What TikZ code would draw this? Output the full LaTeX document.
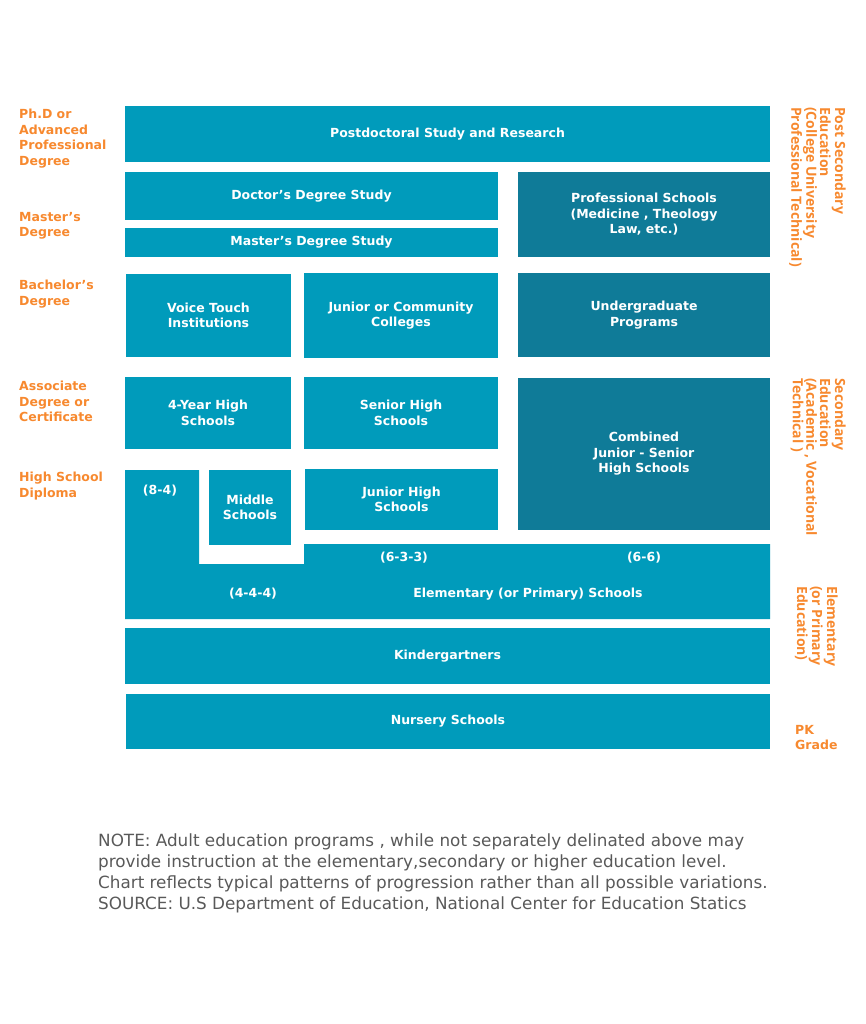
\documentclass[tikz,border=0pt]{standalone}
\usepackage{fontspec}
\setmainfont{DejaVu Sans}
\newfontfamily\sidefont{Open Sans}
\newfontfamily\notefont{DejaVu Sans}
\definecolor{blueL}{HTML}{009BBB}
\definecolor{blueD}{HTML}{0F7B98}
\definecolor{orng}{HTML}{F7892F}
\definecolor{notegray}{HTML}{595959}
\tikzset{
  blk/.style={fill=blueL, text=white, align=center, inner sep=0pt,
    font=\fontsize{12.5}{15.5}\selectfont\bfseries},
  dblk/.style={blk, fill=blueD},
  lvl/.style={text=orng, align=left, inner sep=0pt, anchor=north west,
    font=\fontsize{12.5}{15.5}\selectfont\bfseries},
  side/.style={text=orng, align=left, inner sep=0pt, anchor=north west,
    rotate=-90, font=\sidefont\fontsize{14}{13.7}\selectfont\bfseries},
  tag/.style={text=white, inner sep=0pt,
    font=\fontsize{12.5}{15.5}\selectfont\bfseries}
}
\begin{document}
\begin{tikzpicture}[x=1pt, y=-1pt]
  \useasboundingbox (0,0) rectangle (866,1024);
  % higher education
  \node[blk, minimum width=645pt, minimum height=56pt] (postdoc) at (447.5,134) {Postdoctoral Study and Research};
  \node[blk, minimum width=373pt, minimum height=48pt] (doctor) at (311.5,196) {Doctor’s Degree Study};
  \node[blk, minimum width=373pt, minimum height=29pt] (master) at (311.5,242.5) {Master’s Degree Study};
  \node[dblk, minimum width=252pt, minimum height=85pt] (profsch) at (644,214.5) {Professional Schools\\(Medicine , Theology\\Law, etc.)};
  \node[blk, minimum width=165pt, minimum height=83pt] (voice) at (208.5,315.5) {Voice Touch\\Institutions};
  \node[blk, minimum width=194pt, minimum height=85pt] (juncol) at (401,315.5) {Junior or Community\\Colleges};
  \node[dblk, minimum width=252pt, minimum height=84pt] (undergrad) at (644,315) {Undergraduate\\Programs};
  % secondary
  \node[blk, minimum width=166pt, minimum height=72pt] (fouryear) at (208,413) {4-Year High\\Schools};
  \node[blk, minimum width=194pt, minimum height=72pt] (senhigh) at (401,413) {Senior High\\Schools};
  \node[dblk, minimum width=252pt, minimum height=152pt] (combined) at (644,454) {Combined\\Junior - Senior\\High Schools};
  \node[blk, minimum width=82pt, minimum height=75pt] (middle) at (250,507.5) {Middle\\Schools};
  \node[blk, minimum width=193pt, minimum height=61pt] (junhigh) at (401.5,499.5) {Junior High\\Schools};
  % elementary
  \fill[blueL] (125,470) -- (199,470) -- (199,564) -- (304,564) -- (304,544)
    -- (770,544) -- (770,619) -- (125,619) -- cycle;
  \node[tag] (eightfour) at (160,491) {(8-4)};
  \node[tag] (sixthree) at (404,558) {(6-3-3)};
  \node[tag] (sixsix) at (644,558) {(6-6)};
  \node[tag] (fourfour) at (253,594) {(4-4-4)};
  \node[tag] (elem) at (528,594) {Elementary (or Primary) Schools};
  \node[blk, minimum width=645pt, minimum height=56pt] (kinder) at (447.5,656) {Kindergartners};
  \node[blk, minimum width=644pt, minimum height=55pt] (nursery) at (448,721.5) {Nursery Schools};
  % degree levels
  \node[lvl] (phd) at (19,109) {Ph.D or\\Advanced\\Professional\\Degree};
  \node[lvl] (mdeg) at (19,212) {Master’s\\Degree};
  \node[lvl] (bdeg) at (19,280) {Bachelor’s\\Degree};
  \node[lvl] (assoc) at (19,381) {Associate\\Degree or\\Certificate};
  \node[lvl] (hsdip) at (19,472) {High School\\Diploma};
  \node[lvl] (pk) at (795,725) {PK\\Grade};
  % stages
  \node[side] (postsec) at (846,107) {Post Secondary\\Education\\(College University\\Professional Technical)};
  \node[side] (second) at (846,378) {Secondary\\Education\\(Academic , Vocational\\Technical )};
  \node[side] (elemed) at (838,586) {Elementary\\(or Primary\\Education)};
  % note
  \node[text=notegray, align=left, inner sep=0pt, anchor=north west,
    font=\notefont\fontsize{16.8}{21}\selectfont] (note) at (98,834)
    {NOTE: Adult education programs , while not separately delinated above may\\
     provide instruction at the elementary,secondary or higher education level.\\
     Chart reflects typical patterns of progression rather than all possible variations.\\
     SOURCE: U.S Department of Education, National Center for Education Statics};
\end{tikzpicture}
\end{document}
